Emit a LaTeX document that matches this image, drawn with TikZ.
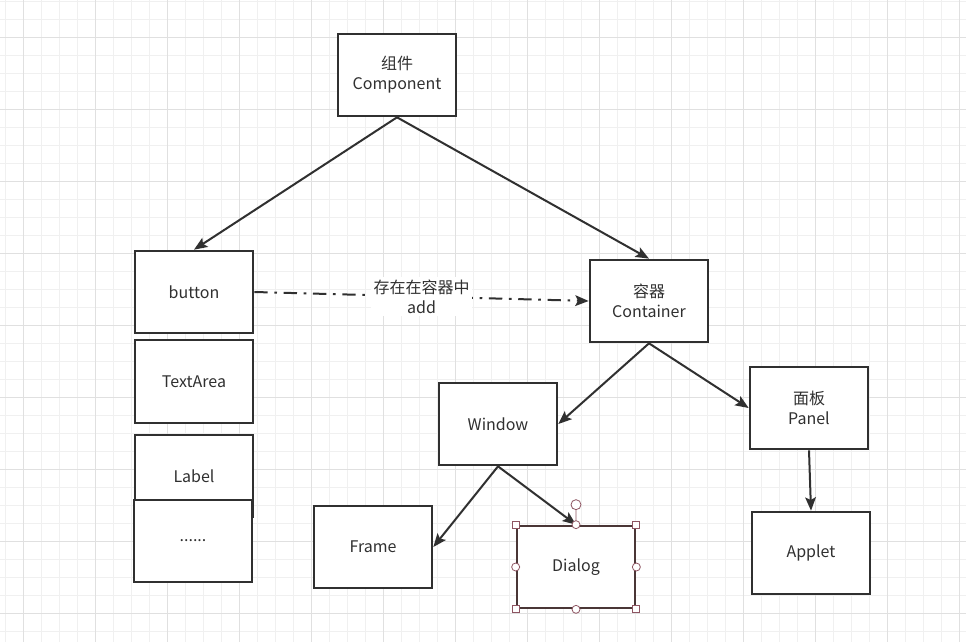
\documentclass[tikz,border=0pt]{standalone}
\usepackage{fontspec}
\setmainfont{Noto Sans CJK SC}
\usepackage{xcolor}
\usepackage{tikz}
\usetikzlibrary{arrows.meta, positioning}

\definecolor{ink}{HTML}{303030}
\definecolor{gridlo}{HTML}{F0F0F0}
\definecolor{gridhi}{HTML}{E0E0E0}
\definecolor{selline}{HTML}{4A3636}
\definecolor{hdlline}{HTML}{8E5562}

\begin{document}
\begin{tikzpicture}[
  x=0.75pt, y=-0.75pt,
  box/.style={draw=ink, line width=1.5pt, fill=white, minimum width=89pt,
              minimum height=62pt, align=center, text=ink,
              font=\fontsize{12}{15}\selectfont},
  arr/.style={-{Stealth[length=10pt, width=8pt, inset=2pt]}, line width=1.5pt,
              draw=ink},
  addlink/.style={arr, dash pattern=on 10pt off 5pt on 2pt off 5pt},
  gminor/.style={draw=gridlo, line width=0.6pt},
  gmajor/.style={draw=gridhi, line width=0.6pt},
  hdl/.style={draw=hdlline, line width=0.6pt, fill=white},
]
  \useasboundingbox (0,0) rectangle (966,642);
  \fill[white] (0,0) rectangle (966,642);

  % grid
  \foreach \k in {0,...,53}
    \draw[gminor] ({5.5+18*\k},0) -- ++(0,642);
  \foreach \k in {0,...,35}
    \draw[gminor] (0,{1.3+18*\k}) -- ++(966,0);
  \foreach \k in {1,5,...,53}
    \draw[gmajor] ({5.5+18*\k},0) -- ++(0,642);
  \foreach \k in {2,6,...,35}
    \draw[gmajor] (0,{1.3+18*\k}) -- ++(966,0);

  % top
  \node[box] (comp) at (397,75)  {组件\\Component};

  % left column
  \node[box] (btn)  at (194,292) {button};
  \node[box, below=3.5pt of btn]  (txta) {TextArea};
  \node[box, below=7.5pt of txta] (lbl)  {Label};
  \node[box] (more) at (193,541) {......};

  % containers
  \node[box] (cont) at (649,301) {容器\\Container};
  \node[box] (win)  at (498,424) {Window};
  \node[box] (pnl)  at (809,408) {面板\\Panel};
  \node[box] (frm)  at (373,547) {Frame};
  \node[box, draw=selline] (dlg) at (576,567) {Dialog};
  \node[box] (app)  at (811,553) {Applet};

  \draw[arr] (comp.south) -- (btn.north);
  \draw[arr] (comp.south) -- (cont.north);
  \draw[addlink] (btn.east) -- (cont.west)
    node[midway, fill=white, text=ink, align=center, inner sep=2pt,
         font=\fontsize{12}{15}\selectfont] (addlbl) {存在在容器中\\add};
  \draw[arr] (cont.south) -- (win.east);
  \draw[arr] (cont.south) -- (pnl.west);
  \draw[arr] (win.south)  -- (frm.east);
  \draw[arr] (win.south)  -- (dlg.north);
  \draw[arr] (pnl.south)  -- (app.north);

  % selection handles on Dialog
  \foreach \a in {north west, north east, south west, south east}
    \draw[hdl, shift={(dlg.\a)}] (-3.5,-3.5) rectangle (3.5,3.5);
  \foreach \a in {north, south, east, west}
    \draw[hdl, shift={(dlg.\a)}] (0,0) circle[radius=4];
  \draw[hdl, shift={(dlg.north)}] (0,-4) -- (0,-15) (0,-20) circle[radius=5];
\end{tikzpicture}
\end{document}
